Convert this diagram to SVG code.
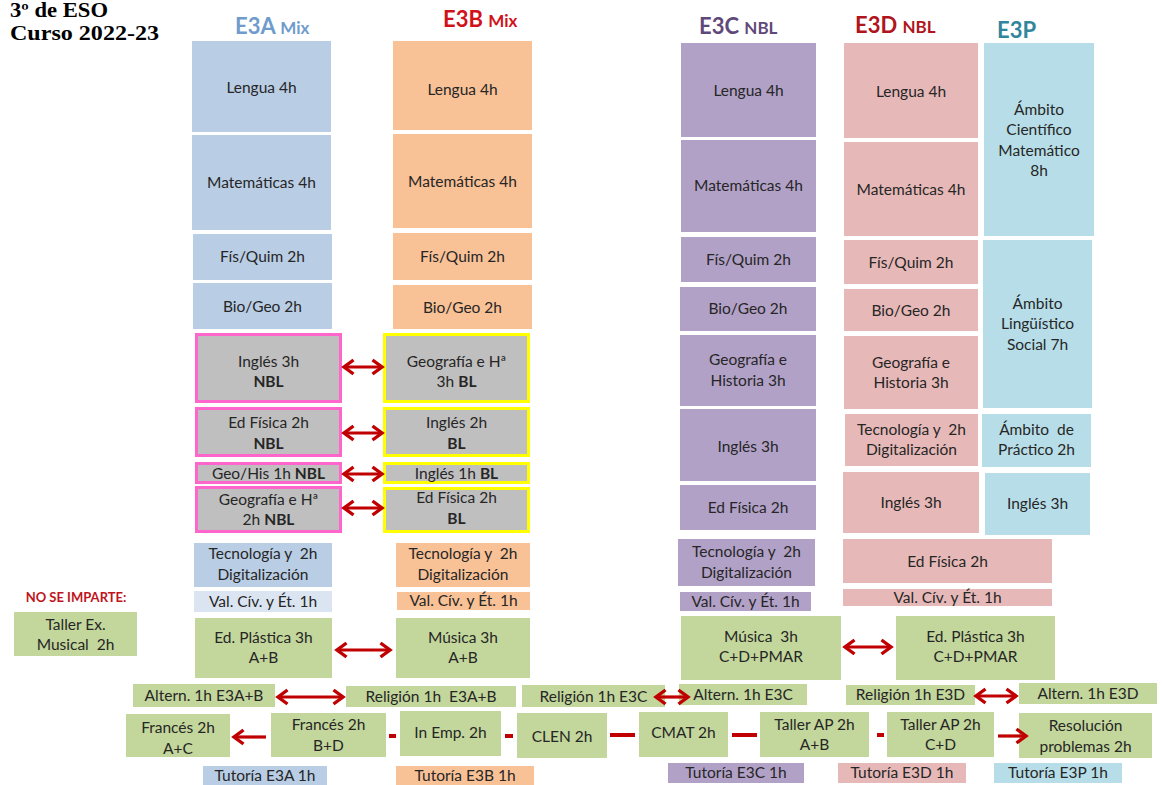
<svg xmlns="http://www.w3.org/2000/svg" width="1162" height="785" viewBox="0 0 1162 785">
<style>
text{font-family:Lato,"Liberation Sans",sans-serif;white-space:pre}
.t{font-size:15.5px;fill:#262626;text-anchor:middle}
.b{font-weight:bold}
.hd{font-weight:bold;font-size:22px}
.hs{font-weight:bold;font-size:17px}
.blue{fill:#b9cde5}.lblue{fill:#dbe5f1}.or{fill:#f9c196}.pu{fill:#b2a1c7}.pk{fill:#e6b9b8}.tl{fill:#b7dee8}.gr{fill:#c3d69b}
.gy{fill:#bfbfbf;stroke-width:3}
.pink{stroke:#ff66cc}.yel{stroke:#ffff00}
.ar{stroke:#c00000;stroke-width:3.2;fill:none}
</style>
<defs>
<marker id="ah" markerUnits="userSpaceOnUse" markerWidth="16" markerHeight="18" viewBox="0 0 16 18" refX="12.5" refY="9" orient="auto-start-reverse">
<path d="M3,2 L12.5,9 L3,16" fill="none" stroke="#c00000" stroke-width="3.4"/>
</marker>
</defs>

<g id="title">
<text x="10" y="17" class="b" style="font-family:'Liberation Serif',serif;font-size:20px" textLength="98" lengthAdjust="spacingAndGlyphs">3º de ESO</text>
<text x="10" y="40" class="b" style="font-family:'Liberation Serif',serif;font-size:22px" textLength="149" lengthAdjust="spacingAndGlyphs">Curso 2022-23</text>
</g>

<g id="headers">
<text x="235" y="34" class="hd" fill="#6f9bcd">E3A <tspan class="hs">Mix</tspan></text>
<text x="443" y="27" class="hd" fill="#d0121b">E3B <tspan class="hs">Mix</tspan></text>
<text x="699" y="34" class="hd" fill="#5f497a">E3C <tspan class="hs">NBL</tspan></text>
<text x="855" y="33" class="hd" fill="#b0141c">E3D <tspan class="hs">NBL</tspan></text>
<text x="997" y="38" class="hd" fill="#31859c">E3P</text>
</g>

<!-- E3A -->
<g id="a-lengua"><rect x="192" y="41" width="139" height="91" class="blue"/><text x="261.5" y="93" class="t">Lengua 4h</text></g>
<g id="a-mat"><rect x="192" y="135" width="139" height="95" class="blue"/><text x="261.5" y="188" class="t">Matemáticas 4h</text></g>
<g id="a-fis"><rect x="193" y="234" width="139" height="46" class="blue"/><text x="262.5" y="262" class="t">Fís/Quim 2h</text></g>
<g id="a-bio"><rect x="193" y="283" width="139" height="46" class="blue"/><text x="262.5" y="312" class="t">Bio/Geo 2h</text></g>
<g id="a-ing"><rect x="196.5" y="334.5" width="144" height="67" class="gy pink"/><text x="268.5" y="367" class="t">Inglés 3h</text><text x="268.5" y="387" class="t b">NBL</text></g>
<g id="a-edf"><rect x="196.5" y="408.5" width="144" height="47" class="gy pink"/><text x="268.5" y="428" class="t">Ed Física 2h</text><text x="268.5" y="449" class="t b">NBL</text></g>
<g id="a-geo1"><rect x="196.5" y="463.5" width="144" height="19" class="gy pink"/><text x="268.5" y="479" class="t">Geo/His 1h <tspan class="b">NBL</tspan></text></g>
<g id="a-geo2"><rect x="196.5" y="487.5" width="144" height="44" class="gy pink"/><text x="268.5" y="505" class="t">Geografía e Hª</text><text x="268.5" y="525" class="t">2h <tspan class="b">NBL</tspan></text></g>
<g id="a-tec"><rect x="194" y="543" width="138" height="44" class="blue"/><text x="263" y="559" class="t">Tecnología y  2h</text><text x="263" y="580" class="t">Digitalización</text></g>
<g id="a-val"><rect x="194" y="591" width="138" height="21" class="lblue"/><text x="263" y="607" class="t">Val. Cív. y Ét. 1h</text></g>
<g id="a-pla"><rect x="195" y="618" width="137" height="60" class="gr"/><text x="263.5" y="643" class="t">Ed. Plástica 3h</text><text x="263.5" y="663" class="t">A+B</text></g>

<!-- E3B -->
<g id="b-lengua"><rect x="393" y="41" width="139" height="89" class="or"/><text x="462.5" y="95" class="t">Lengua 4h</text></g>
<g id="b-mat"><rect x="393" y="134" width="139" height="94" class="or"/><text x="462.5" y="187" class="t">Matemáticas 4h</text></g>
<g id="b-fis"><rect x="393" y="233" width="139" height="47" class="or"/><text x="462.5" y="262" class="t">Fís/Quim 2h</text></g>
<g id="b-bio"><rect x="393" y="285" width="139" height="44" class="or"/><text x="462.5" y="313" class="t">Bio/Geo 2h</text></g>
<g id="b-geo"><rect x="384.5" y="334.5" width="144" height="67" class="gy yel"/><text x="456.5" y="367" class="t">Geografía e Hª</text><text x="456.5" y="387" class="t">3h <tspan class="b">BL</tspan></text></g>
<g id="b-ing2"><rect x="384.5" y="408.5" width="144" height="47" class="gy yel"/><text x="456.5" y="428" class="t">Inglés 2h</text><text x="456.5" y="449" class="t b">BL</text></g>
<g id="b-ing1"><rect x="384.5" y="463.5" width="144" height="19" class="gy yel"/><text x="456.5" y="479" class="t">Inglés 1h <tspan class="b">BL</tspan></text></g>
<g id="b-edf"><rect x="384.5" y="488.5" width="144" height="43" class="gy yel"/><text x="456.5" y="503" class="t">Ed Física 2h</text><text x="456.5" y="524" class="t b">BL</text></g>
<g id="b-tec"><rect x="396" y="543" width="134" height="44" class="or"/><text x="463" y="559" class="t">Tecnología y  2h</text><text x="463" y="580" class="t">Digitalización</text></g>
<g id="b-val"><rect x="397" y="592" width="133" height="18" class="or"/><text x="463.5" y="606" class="t">Val. Cív. y Ét. 1h</text></g>
<g id="b-mus"><rect x="396" y="618" width="134" height="60" class="gr"/><text x="463" y="643" class="t">Música 3h</text><text x="463" y="663" class="t">A+B</text></g>

<!-- E3C -->
<g id="c-lengua"><rect x="681" y="43" width="135" height="94" class="pu"/><text x="748.5" y="96" class="t">Lengua 4h</text></g>
<g id="c-mat"><rect x="681" y="140" width="135" height="92" class="pu"/><text x="748.5" y="191" class="t">Matemáticas 4h</text></g>
<g id="c-fis"><rect x="681" y="237" width="135" height="45" class="pu"/><text x="748.5" y="265" class="t">Fís/Quim 2h</text></g>
<g id="c-bio"><rect x="680" y="287" width="136" height="44" class="pu"/><text x="748" y="314" class="t">Bio/Geo 2h</text></g>
<g id="c-geo"><rect x="680" y="335" width="136" height="71" class="pu"/><text x="748" y="365" class="t">Geografía e</text><text x="748" y="386" class="t">Historia 3h</text></g>
<g id="c-ing"><rect x="680" y="409" width="136" height="72" class="pu"/><text x="748" y="452" class="t">Inglés 3h</text></g>
<g id="c-edf"><rect x="680" y="485" width="136" height="45" class="pu"/><text x="748" y="513" class="t">Ed Física 2h</text></g>
<g id="c-tec"><rect x="678" y="539" width="137" height="47" class="pu"/><text x="746.5" y="557" class="t">Tecnología y  2h</text><text x="746.5" y="578" class="t">Digitalización</text></g>
<g id="c-val"><rect x="680" y="592" width="131" height="19" class="pu"/><text x="745.5" y="607" class="t">Val. Cív. y Ét. 1h</text></g>
<g id="c-mus"><rect x="681" y="616" width="160" height="64" class="gr"/><text x="761" y="642" class="t">Música  3h</text><text x="761" y="662" class="t">C+D+PMAR</text></g>

<!-- E3D -->
<g id="d-lengua"><rect x="844" y="43" width="134" height="95" class="pk"/><text x="911" y="97" class="t">Lengua 4h</text></g>
<g id="d-mat"><rect x="844" y="142" width="134" height="94" class="pk"/><text x="911" y="195" class="t">Matemáticas 4h</text></g>
<g id="d-fis"><rect x="844" y="240" width="134" height="44" class="pk"/><text x="911" y="268" class="t">Fís/Quim 2h</text></g>
<g id="d-bio"><rect x="844" y="289" width="134" height="42" class="pk"/><text x="911" y="316" class="t">Bio/Geo 2h</text></g>
<g id="d-geo"><rect x="844" y="336" width="134" height="73" class="pk"/><text x="911" y="368" class="t">Geografía e</text><text x="911" y="388" class="t">Historia 3h</text></g>
<g id="d-tec"><rect x="845" y="414" width="133" height="52" class="pk"/><text x="911.5" y="435" class="t">Tecnología y  2h</text><text x="911.5" y="455" class="t">Digitalización</text></g>
<g id="d-ing"><rect x="843" y="472" width="136" height="61" class="pk"/><text x="911" y="508" class="t">Inglés 3h</text></g>
<g id="d-edf"><rect x="843" y="539" width="209" height="44" class="pk"/><text x="947.5" y="567" class="t">Ed Física 2h</text></g>
<g id="d-val"><rect x="843" y="589" width="209" height="17" class="pk"/><text x="947.5" y="603" class="t">Val. Cív. y Ét. 1h</text></g>
<g id="d-pla"><rect x="896" y="616" width="159" height="64" class="gr"/><text x="975.5" y="642" class="t">Ed. Plástica 3h</text><text x="975.5" y="662" class="t">C+D+PMAR</text></g>

<!-- E3P -->
<g id="p-acm"><rect x="984" y="43" width="110" height="193" class="tl"/><text x="1039" y="115" class="t">Ámbito</text><text x="1039" y="135" class="t">Científico</text><text x="1039" y="156" class="t">Matemático</text><text x="1039" y="176" class="t">8h</text></g>
<g id="p-als"><rect x="983" y="240" width="109" height="168" class="tl"/><text x="1037.5" y="309" class="t">Ámbito</text><text x="1037.5" y="329" class="t">Lingüístico</text><text x="1037.5" y="350" class="t">Social 7h</text></g>
<g id="p-ap"><rect x="982" y="414" width="109" height="53" class="tl"/><text x="1036.5" y="435" class="t">Ámbito  de</text><text x="1036.5" y="455" class="t">Práctico 2h</text></g>
<g id="p-ing"><rect x="985" y="473" width="105" height="62" class="tl"/><text x="1037.5" y="509" class="t">Inglés 3h</text></g>

<!-- No se imparte -->
<g id="noimp"><text x="76" y="602" style="font-size:13px;font-weight:bold;fill:#c0141c;text-anchor:middle">NO SE IMPARTE:</text></g>
<g id="taller-mus"><rect x="14" y="612" width="123" height="44" class="gr"/><text x="75.5" y="630" class="t">Taller Ex.</text><text x="75.5" y="650" class="t">Musical  2h</text></g>

<!-- Religión / Alternativa -->
<g id="alt-ab"><rect x="133" y="684" width="142" height="23" class="gr"/><text x="204" y="701" class="t">Altern. 1h E3A+B</text></g>
<g id="rel-ab"><rect x="346" y="686" width="170" height="21" class="gr"/><text x="431" y="702" class="t">Religión 1h  E3A+B</text></g>
<g id="rel-c"><rect x="522" y="685" width="143" height="22" class="gr"/><text x="593.5" y="702" class="t">Religión 1h E3C</text></g>
<g id="alt-c"><rect x="679" y="684" width="128" height="21" class="gr"/><text x="743" y="700" class="t">Altern. 1h E3C</text></g>
<g id="rel-d"><rect x="846" y="685" width="129" height="20" class="gr"/><text x="910.5" y="700" class="t">Religión 1h E3D</text></g>
<g id="alt-d"><rect x="1019" y="683" width="138" height="21" class="gr"/><text x="1088" y="699" class="t">Altern. 1h E3D</text></g>

<!-- Optativas -->
<g id="fr-ac"><rect x="126" y="714" width="104" height="43" class="gr"/><text x="178" y="733" class="t">Francés 2h</text><text x="178" y="754" class="t">A+C</text></g>
<g id="fr-bd"><rect x="271" y="713" width="115" height="44" class="gr"/><text x="328.5" y="730" class="t">Francés 2h</text><text x="328.5" y="751" class="t">B+D</text></g>
<g id="inemp"><rect x="400" y="711" width="101" height="45" class="gr"/><text x="450.5" y="738" class="t">In Emp. 2h</text></g>
<g id="clen"><rect x="517" y="713" width="90" height="45" class="gr"/><text x="562" y="742" class="t">CLEN 2h</text></g>
<g id="cmat"><rect x="639" y="712" width="89" height="45" class="gr"/><text x="683.5" y="738" class="t">CMAT 2h</text></g>
<g id="tap-ab"><rect x="760" y="712" width="109" height="45" class="gr"/><text x="814.5" y="730" class="t">Taller AP 2h</text><text x="814.5" y="750" class="t">A+B</text></g>
<g id="tap-cd"><rect x="887" y="712" width="107" height="45" class="gr"/><text x="940.5" y="730" class="t">Taller AP 2h</text><text x="940.5" y="750" class="t">C+D</text></g>
<g id="resol"><rect x="1019" y="713" width="133" height="45" class="gr"/><text x="1085.5" y="731" class="t">Resolución</text><text x="1085.5" y="752" class="t">problemas 2h</text></g>

<!-- Tutorías -->
<g id="tut-a"><rect x="203" y="766" width="124" height="19" class="blue"/><text x="265" y="781" class="t">Tutoría E3A 1h</text></g>
<g id="tut-b"><rect x="396" y="766" width="138" height="19" class="or"/><text x="465" y="781" class="t">Tutoría E3B 1h</text></g>
<g id="tut-c"><rect x="668" y="763" width="136" height="20" class="pu"/><text x="736" y="778" class="t">Tutoría E3C 1h</text></g>
<g id="tut-d"><rect x="838" y="763" width="128" height="20" class="pk"/><text x="902" y="778" class="t">Tutoría E3D 1h</text></g>
<g id="tut-p"><rect x="994" y="763" width="128" height="20" class="tl"/><text x="1058" y="778" class="t">Tutoría E3P 1h</text></g>

<g id="connectors">
<line x1="344" y1="367" x2="382" y2="367" class="ar" marker-start="url(#ah)" marker-end="url(#ah)"/>
<line x1="344" y1="433" x2="382" y2="433" class="ar" marker-start="url(#ah)" marker-end="url(#ah)"/>
<line x1="344" y1="474" x2="382" y2="474" class="ar" marker-start="url(#ah)" marker-end="url(#ah)"/>
<line x1="344" y1="508" x2="382" y2="508" class="ar" marker-start="url(#ah)" marker-end="url(#ah)"/>
<line x1="337" y1="650" x2="390" y2="650" class="ar" marker-start="url(#ah)" marker-end="url(#ah)"/>
<line x1="845" y1="647" x2="891" y2="647" class="ar" marker-start="url(#ah)" marker-end="url(#ah)"/>
<line x1="278" y1="697" x2="343" y2="697" class="ar" marker-start="url(#ah)" marker-end="url(#ah)"/>
<line x1="656" y1="697" x2="688" y2="697" class="ar" marker-start="url(#ah)" marker-end="url(#ah)"/>
<line x1="976" y1="696" x2="1016" y2="696" class="ar" marker-start="url(#ah)" marker-end="url(#ah)"/>
<line x1="266" y1="737" x2="234" y2="737" class="ar" marker-end="url(#ah)"/>
<line x1="998" y1="736" x2="1026" y2="736" class="ar" marker-end="url(#ah)"/>
<line x1="389" y1="736" x2="396" y2="736" class="ar" style="stroke-width:4"/>
<line x1="505" y1="736" x2="513" y2="736" class="ar" style="stroke-width:4"/>
<line x1="610" y1="735" x2="635" y2="735" class="ar" style="stroke-width:4"/>
<line x1="732" y1="735" x2="757" y2="735" class="ar" style="stroke-width:4"/>
<line x1="877" y1="735" x2="884" y2="735" class="ar" style="stroke-width:4"/>
</g>
</svg>
